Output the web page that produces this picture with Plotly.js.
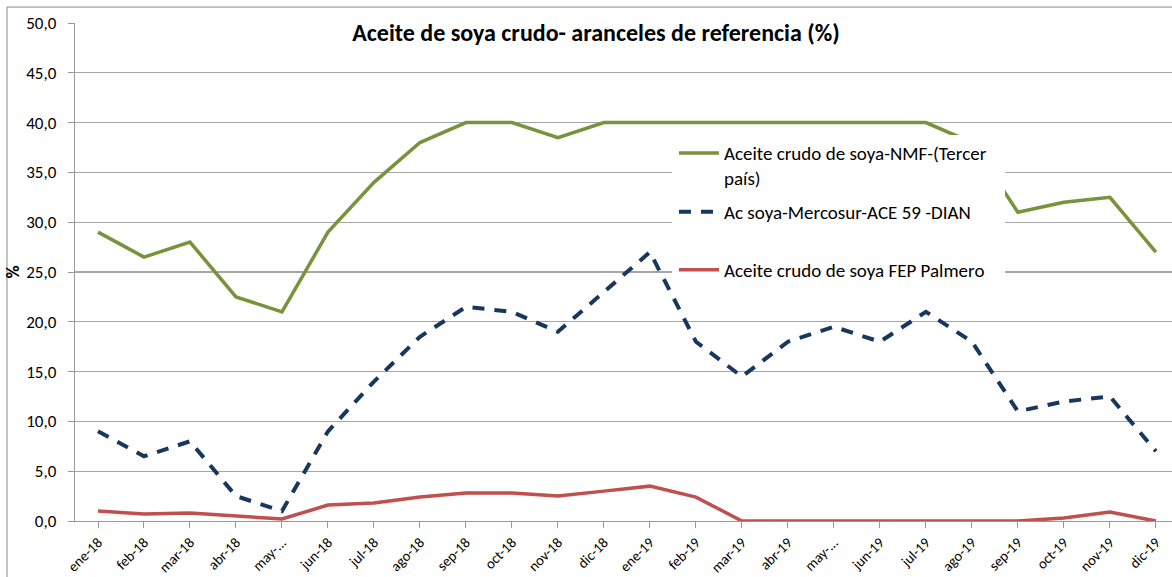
<!DOCTYPE html>
<html>
<head>
<meta charset="utf-8">
<script src="https://cdn.plot.ly/plotly-3.0.1.min.js"></script>
<style>
html,body{margin:0;padding:0;background:#fff;}
#chart{width:1172px;height:577px;}
</style>
</head>
<body>
<div id="chart"></div>
<script>
const categories = ["ene-18","feb-18","mar-18","abr-18","may-18","jun-18","jul-18","ago-18","sep-18","oct-18","nov-18","dic-18",
  "ene-19","feb-19","mar-19","abr-19","may-19","jun-19","jul-19","ago-19","sep-19","oct-19","nov-19","dic-19"];
const tickLabels = ["ene-18","feb-18","mar-18","abr-18","may-...","jun-18","jul-18","ago-18","sep-18","oct-18","nov-18","dic-18",
  "ene-19","feb-19","mar-19","abr-19","may-...","jun-19","jul-19","ago-19","sep-19","oct-19","nov-19","dic-19"];
const nmf = [29.0,26.5,28.0,22.5,21.0,29.0,34.0,38.0,40.0,40.0,38.5,40.0,
  40.0,40.0,40.0,40.0,40.0,40.0,40.0,38.0,31.0,32.0,32.5,27.0];
const mercosur = [9.0,6.5,8.0,2.5,1.0,9.0,14.0,18.5,21.5,21.0,19.0,23.0,
  27.0,18.0,14.5,18.0,19.5,18.0,21.0,18.0,11.0,12.0,12.5,7.0];
const fep = [1.0,0.7,0.8,0.5,0.2,1.6,1.8,2.4,2.8,2.8,2.5,3.0,
  3.5,2.4,0,0,0,0,0,0,0,0.3,0.9,0];
const seriesNames = ["Aceite crudo de soya-NMF-(Tercer<br>país)","Ac soya-Mercosur-ACE 59 -DIAN","Aceite crudo de soya FEP Palmero"];
const titleText = "Aceite de soya crudo- aranceles de referencia (%)";

const FONT = "Carlito, Calibri, Lato, sans-serif";
const idx = categories.map((_, i) => i);

const traces = [
  {x: idx, y: nmf, name: seriesNames[0], type: "scatter", mode: "lines", legend: "legend",
   line: {color: "#77933C", width: 3.5}},
  {x: idx, y: mercosur, name: seriesNames[1], type: "scatter", mode: "lines", legend: "legend2",
   line: {color: "#17375E", width: 4, dash: "12px,10px"}},
  {x: idx, y: fep, name: seriesNames[2], type: "scatter", mode: "lines", legend: "legend3",
   line: {color: "#C0504D", width: 3.5}}
];

const legendBase = {x: 0.546, xanchor: "left", yanchor: "top", bgcolor: "rgba(0,0,0,0)", borderwidth: 0,
  font: {family: FONT, size: 19, color: "#000"}, valign: "top", itemwidth: 40};

const layout = {
  width: 1172, height: 577,
  margin: {l: 75, r: 0, t: 23, b: 56},
  paper_bgcolor: "#fff", plot_bgcolor: "#fff",
  separators: ",.",
  font: {family: FONT, size: 16, color: "#000"},
  title: {text: "<b>" + titleText + "</b>", font: {family: FONT, size: 24, color: "#000"},
          xref: "container", x: 0.5085, xanchor: "center", yref: "container", y: 0.943, yanchor: "middle"},
  xaxis: {
    range: [-0.5, 23.35], tickmode: "array", tickvals: idx, ticktext: tickLabels,
    tickangle: -45, showgrid: false, showline: true, linecolor: "#999", linewidth: 1.3,
    ticks: "outside", ticklen: 6, tickcolor: "#999", zeroline: false,
    tickfont: {family: FONT, size: 14.5, color: "#000"}, fixedrange: true
  },
  yaxis: {
    range: [0, 50], dtick: 5, tickformat: ".1f", showgrid: true, gridcolor: "#a6a6a6", gridwidth: 1.2,
    showline: true, linecolor: "#999", linewidth: 1.3, ticks: "outside", ticklen: 6, tickcolor: "#999",
    zeroline: false, tickfont: {family: FONT, size: 17, color: "#000"}, ticklabelstandoff: 8,
    title: {text: "<b>%</b>", font: {family: FONT, size: 18, color: "#000"}, standoff: 2},
    automargin: false, fixedrange: true
  },
  showlegend: true,
  legend: Object.assign({}, legendBase, {y: 0.777}),
  legend2: Object.assign({}, legendBase, {y: 0.6586}),
  legend3: Object.assign({}, legendBase, {y: 0.5422}),
  shapes: [
    {type: "rect", xref: "paper", yref: "paper", x0: 0.5442, x1: 0.8478, y0: 0.4478, y1: 0.7751,
     fillcolor: "#fff", line: {width: 0}, layer: "above"},
    {type: "line", xref: "paper", yref: "paper", x0: -0.062, x1: 1.1, y0: 1.032, y1: 1.032, line: {color: "#888", width: 1}},
    {type: "line", xref: "paper", yref: "paper", x0: -0.062, x1: -0.062, y0: -0.2, y1: 1.032, line: {color: "#888", width: 1}}
  ]
};

Plotly.newPlot("chart", traces, layout, {displayModeBar: false, staticPlot: true});
</script>
</body>
</html>
